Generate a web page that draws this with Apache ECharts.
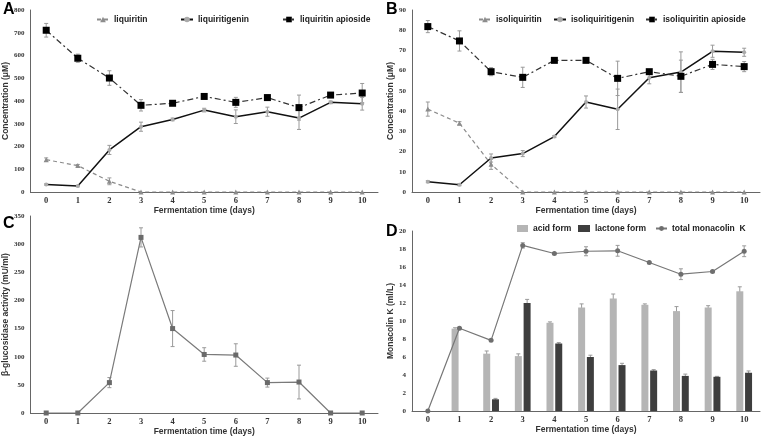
<!DOCTYPE html>
<html><head><meta charset="utf-8">
<script src="https://cdn.jsdelivr.net/npm/echarts@6/dist/echarts.min.js"></script>
<style>html,body{margin:0;padding:0;background:#fff}#c{width:770px;height:439px}</style>
</head><body><div id="c"></div>
<script>
// ---------- DATA ----------
const days = ['0','1','2','3','4','5','6','7','8','9','10'];

// Panel A (µM)
const liquiritin       = [142,116,47,0,0,0,0,0,0,0,0];
const liquiritinErr    = [8,5,15,0,0,0,0,0,0,0,0];
const liquiritigenin   = [33,26,185,287,319,360,331,353,325,394,388];
const liquiritigeninErr= [3,3,20,20,6,8,30,20,50,6,28];
const liqApioside      = [711,588,501,381,390,420,394,415,371,426,435];
const liqApiosideErr   = [30,18,32,25,8,8,22,12,55,8,42];

// Panel B (µM)
const isoliquiritin        = [41,34,13.7,0,0,0,0,0,0,0,0];
const isoliquiritinErr     = [3.5,0.8,2.5,0,0,0,0,0,0,0,0];
const isoliquiritigenin    = [5.1,3.6,16.8,19,27.4,44.5,40.9,56.5,59.3,69.6,69.1];
const isoliquiritigeninErr = [0.5,0.5,2,1.5,0.5,3,10,3,10,3,2];
const isoApioside          = [81.8,74.7,59.5,56.7,65.1,65.1,56.2,59.5,57.2,63.1,62.0];
const isoApiosideErr       = [3,5,2,5,0.5,0.5,8.5,1,8,2.5,2.5];

// Panel C (mU/ml)
const glucosidase    = [0,0,54,312,150,104,103,54,55,0,0];
const glucosidaseErr = [0,0,9,17,32,12,20,8,30,0,0];

// Panel D (ml/L)
const acidForm       = [0,9.15,6.37,6.1,9.8,11.5,12.5,11.8,11.1,11.5,13.3];
const acidErr        = [0,0.1,0.3,0.25,0.1,0.4,0.5,0.1,0.5,0.2,0.5];
const lactoneForm    = [0,0,1.3,12.0,7.5,6.0,5.1,4.5,3.9,3.8,4.25];
const lactoneErr     = [0,0,0.1,0.4,0.1,0.2,0.2,0.1,0.2,0.05,0.2];
const totalMonacolin = [0,9.2,7.85,18.4,17.5,17.75,17.8,16.5,15.2,15.5,17.75];
const totalErr       = [0,0.1,0.1,0.3,0.1,0.5,0.6,0.1,0.6,0.1,0.6];

// ---------- STYLE ----------
const SANS = 'Liberation Sans, Arial, sans-serif';
const SERIF = 'Liberation Serif, Times New Roman, serif';
const AX = '#666';
const ERR = '#9a9a9a';

function errSeries(gi, vals, errs, offset) {
  const data = [];
  vals.forEach((v, i) => { if (errs[i] > 0) data.push([i, v - errs[i], v + errs[i]]); });
  return {
    type: 'custom', xAxisIndex: gi, yAxisIndex: gi, z: 1, silent: true,
    data: data,
    renderItem: function (params, api) {
      const lo = api.coord([api.value(0), api.value(1)]);
      const hi = api.coord([api.value(0), api.value(2)]);
      const x = lo[0] + (offset || 0);
      const st = { stroke: ERR, lineWidth: 1 };
      return { type: 'group', children: [
        { type: 'line', shape: { x1: x, y1: lo[1], x2: x, y2: hi[1] }, style: st },
        { type: 'line', shape: { x1: x - 2, y1: lo[1], x2: x + 2, y2: lo[1] }, style: st },
        { type: 'line', shape: { x1: x - 2, y1: hi[1], x2: x + 2, y2: hi[1] }, style: st }
      ]};
    }
  };
}

const grids = [
  { left: 30, top: 10, width: 348, height: 182 },
  { left: 412, top: 10, width: 348, height: 182 },
  { left: 30, top: 216, width: 348, height: 197 },
  { left: 412, top: 231, width: 348, height: 180 }
];

function xAx(gi) {
  return {
    type: 'category', gridIndex: gi, data: days, boundaryGap: true,
    name: 'Fermentation time (days)', nameLocation: 'middle', nameGap: 14,
    nameTextStyle: { fontFamily: SANS, fontWeight: 'bold', fontSize: 8.5, color: '#333' },
    axisLine: { lineStyle: { color: AX, width: 1 } },
    axisTick: { show: false },
    axisLabel: { fontFamily: SERIF, fontWeight: 'bold', fontSize: 8.5, color: '#333', margin: 4 }
  };
}
function yAx(gi, name, max, interval, gap) {
  return {
    type: 'value', gridIndex: gi, min: 0, max: max, interval: interval,
    name: name, nameLocation: 'middle', nameGap: gap,
    nameTextStyle: { fontFamily: SANS, fontWeight: 'bold', fontSize: 8.5, color: '#333' },
    axisLine: { show: true, lineStyle: { color: AX, width: 1 } },
    axisTick: { show: false },
    splitLine: { show: false },
    axisLabel: { fontFamily: SERIF, fontWeight: 'bold', fontSize: 7, color: '#333', margin: 6 }
  };
}

const legText = { fontFamily: SANS, fontWeight: 'bold', fontSize: 8.5, color: '#222' };
function leg(name, left, top, w, h) {
  return { data: [name], left: left, top: top, itemWidth: w || 12, itemHeight: h || 7,
           itemGap: 4, padding: 0, textStyle: legText };
}

const option = {
  animation: false,
  backgroundColor: '#fff',
  grid: grids,
  xAxis: [xAx(0), xAx(1), xAx(2), xAx(3)],
  yAxis: [
    yAx(0, 'Concentration (μM)', 800, 100, 16),
    yAx(1, 'Concentration (μM)', 90, 10, 15),
    yAx(2, 'β-glucosidase activity (mU/ml)', 350, 50, 16),
    yAx(3, 'Monacolin K (ml/L)', 20, 2, 15)
  ],
  legend: [
    leg('liquiritin', 96, 15),
    leg('liquiritigenin', 180, 15),
    leg('liquiritin apioside', 282, 15),
    leg('isoliquiritin', 478, 15),
    leg('isoliquiritigenin', 553, 15),
    leg('isoliquiritin apioside', 645, 15),
    Object.assign(leg('acid form', 517, 224, 11, 7), { icon: 'rect' }),
    Object.assign(leg('lactone form', 578, 224, 12, 7), { icon: 'rect' }),
    leg('total monacolin  K', 655, 224, 11, 6)
  ],
  graphic: [
    { type: 'text', left: 3, top: 2, style: { text: 'A', font: 'bold 16px ' + SANS, fill: '#000' } },
    { type: 'text', left: 386, top: 2, style: { text: 'B', font: 'bold 16px ' + SANS, fill: '#000' } },
    { type: 'text', left: 3, top: 216, style: { text: 'C', font: 'bold 16px ' + SANS, fill: '#000' } },
    { type: 'text', left: 386, top: 224, style: { text: 'D', font: 'bold 16px ' + SANS, fill: '#000' } }
  ],
  series: [
    // ---- A ----
    errSeries(0, liquiritin, liquiritinErr),
    errSeries(0, liquiritigenin, liquiritigeninErr),
    errSeries(0, liqApioside, liqApiosideErr),
    { name: 'liquiritin', type: 'line', xAxisIndex: 0, yAxisIndex: 0, data: liquiritin, z: 3,
      symbol: 'triangle', symbolSize: 5, itemStyle: { color: '#8c8c8c' },
      lineStyle: { color: '#8c8c8c', width: 1.2, type: [4, 3] } },
    { name: 'liquiritigenin', type: 'line', xAxisIndex: 0, yAxisIndex: 0, data: liquiritigenin, z: 3,
      symbol: 'circle', symbolSize: 4, itemStyle: { color: '#aaa' },
      lineStyle: { color: '#111', width: 1.5 } },
    { name: 'liquiritin apioside', type: 'line', xAxisIndex: 0, yAxisIndex: 0, data: liqApioside, z: 4,
      symbol: 'rect', symbolSize: 7, itemStyle: { color: '#000' },
      lineStyle: { color: '#333', width: 1.2, type: [6, 3, 2, 3] } },
    // ---- B ----
    errSeries(1, isoliquiritin, isoliquiritinErr),
    errSeries(1, isoliquiritigenin, isoliquiritigeninErr),
    errSeries(1, isoApioside, isoApiosideErr),
    { name: 'isoliquiritin', type: 'line', xAxisIndex: 1, yAxisIndex: 1, data: isoliquiritin, z: 3,
      symbol: 'triangle', symbolSize: 5, itemStyle: { color: '#8c8c8c' },
      lineStyle: { color: '#8c8c8c', width: 1.2, type: [4, 3] } },
    { name: 'isoliquiritigenin', type: 'line', xAxisIndex: 1, yAxisIndex: 1, data: isoliquiritigenin, z: 3,
      symbol: 'circle', symbolSize: 4, itemStyle: { color: '#aaa' },
      lineStyle: { color: '#111', width: 1.5 } },
    { name: 'isoliquiritin apioside', type: 'line', xAxisIndex: 1, yAxisIndex: 1, data: isoApioside, z: 4,
      symbol: 'rect', symbolSize: 7, itemStyle: { color: '#000' },
      lineStyle: { color: '#333', width: 1.2, type: [6, 3, 2, 3] } },
    // ---- C ----
    errSeries(2, glucosidase, glucosidaseErr),
    { name: 'glucosidase', type: 'line', xAxisIndex: 2, yAxisIndex: 2, data: glucosidase, z: 3,
      symbol: 'rect', symbolSize: 5, itemStyle: { color: '#6a6a6a' },
      lineStyle: { color: '#7a7a7a', width: 1.2 } },
    // ---- D ----
    { name: 'acid form', type: 'bar', xAxisIndex: 3, yAxisIndex: 3, data: acidForm, z: 2,
      barWidth: 7, barGap: '25%', itemStyle: { color: '#b5b5b5' } },
    { name: 'lactone form', type: 'bar', xAxisIndex: 3, yAxisIndex: 3, data: lactoneForm, z: 2,
      barWidth: 7, barGap: '25%', itemStyle: { color: '#3e3e3e' } },
    errSeries(3, acidForm, acidErr, -4.4),
    errSeries(3, lactoneForm, lactoneErr, 4.4),
    errSeries(3, totalMonacolin, totalErr),
    { name: 'total monacolin  K', type: 'line', xAxisIndex: 3, yAxisIndex: 3, data: totalMonacolin, z: 4,
      symbol: 'circle', symbolSize: 5, itemStyle: { color: '#6e6e6e' },
      lineStyle: { color: '#777', width: 1.2 } }
  ]
};

const chart = echarts.init(document.getElementById('c'), null, { renderer: 'canvas' });
chart.setOption(option);
</script>
</body></html>
